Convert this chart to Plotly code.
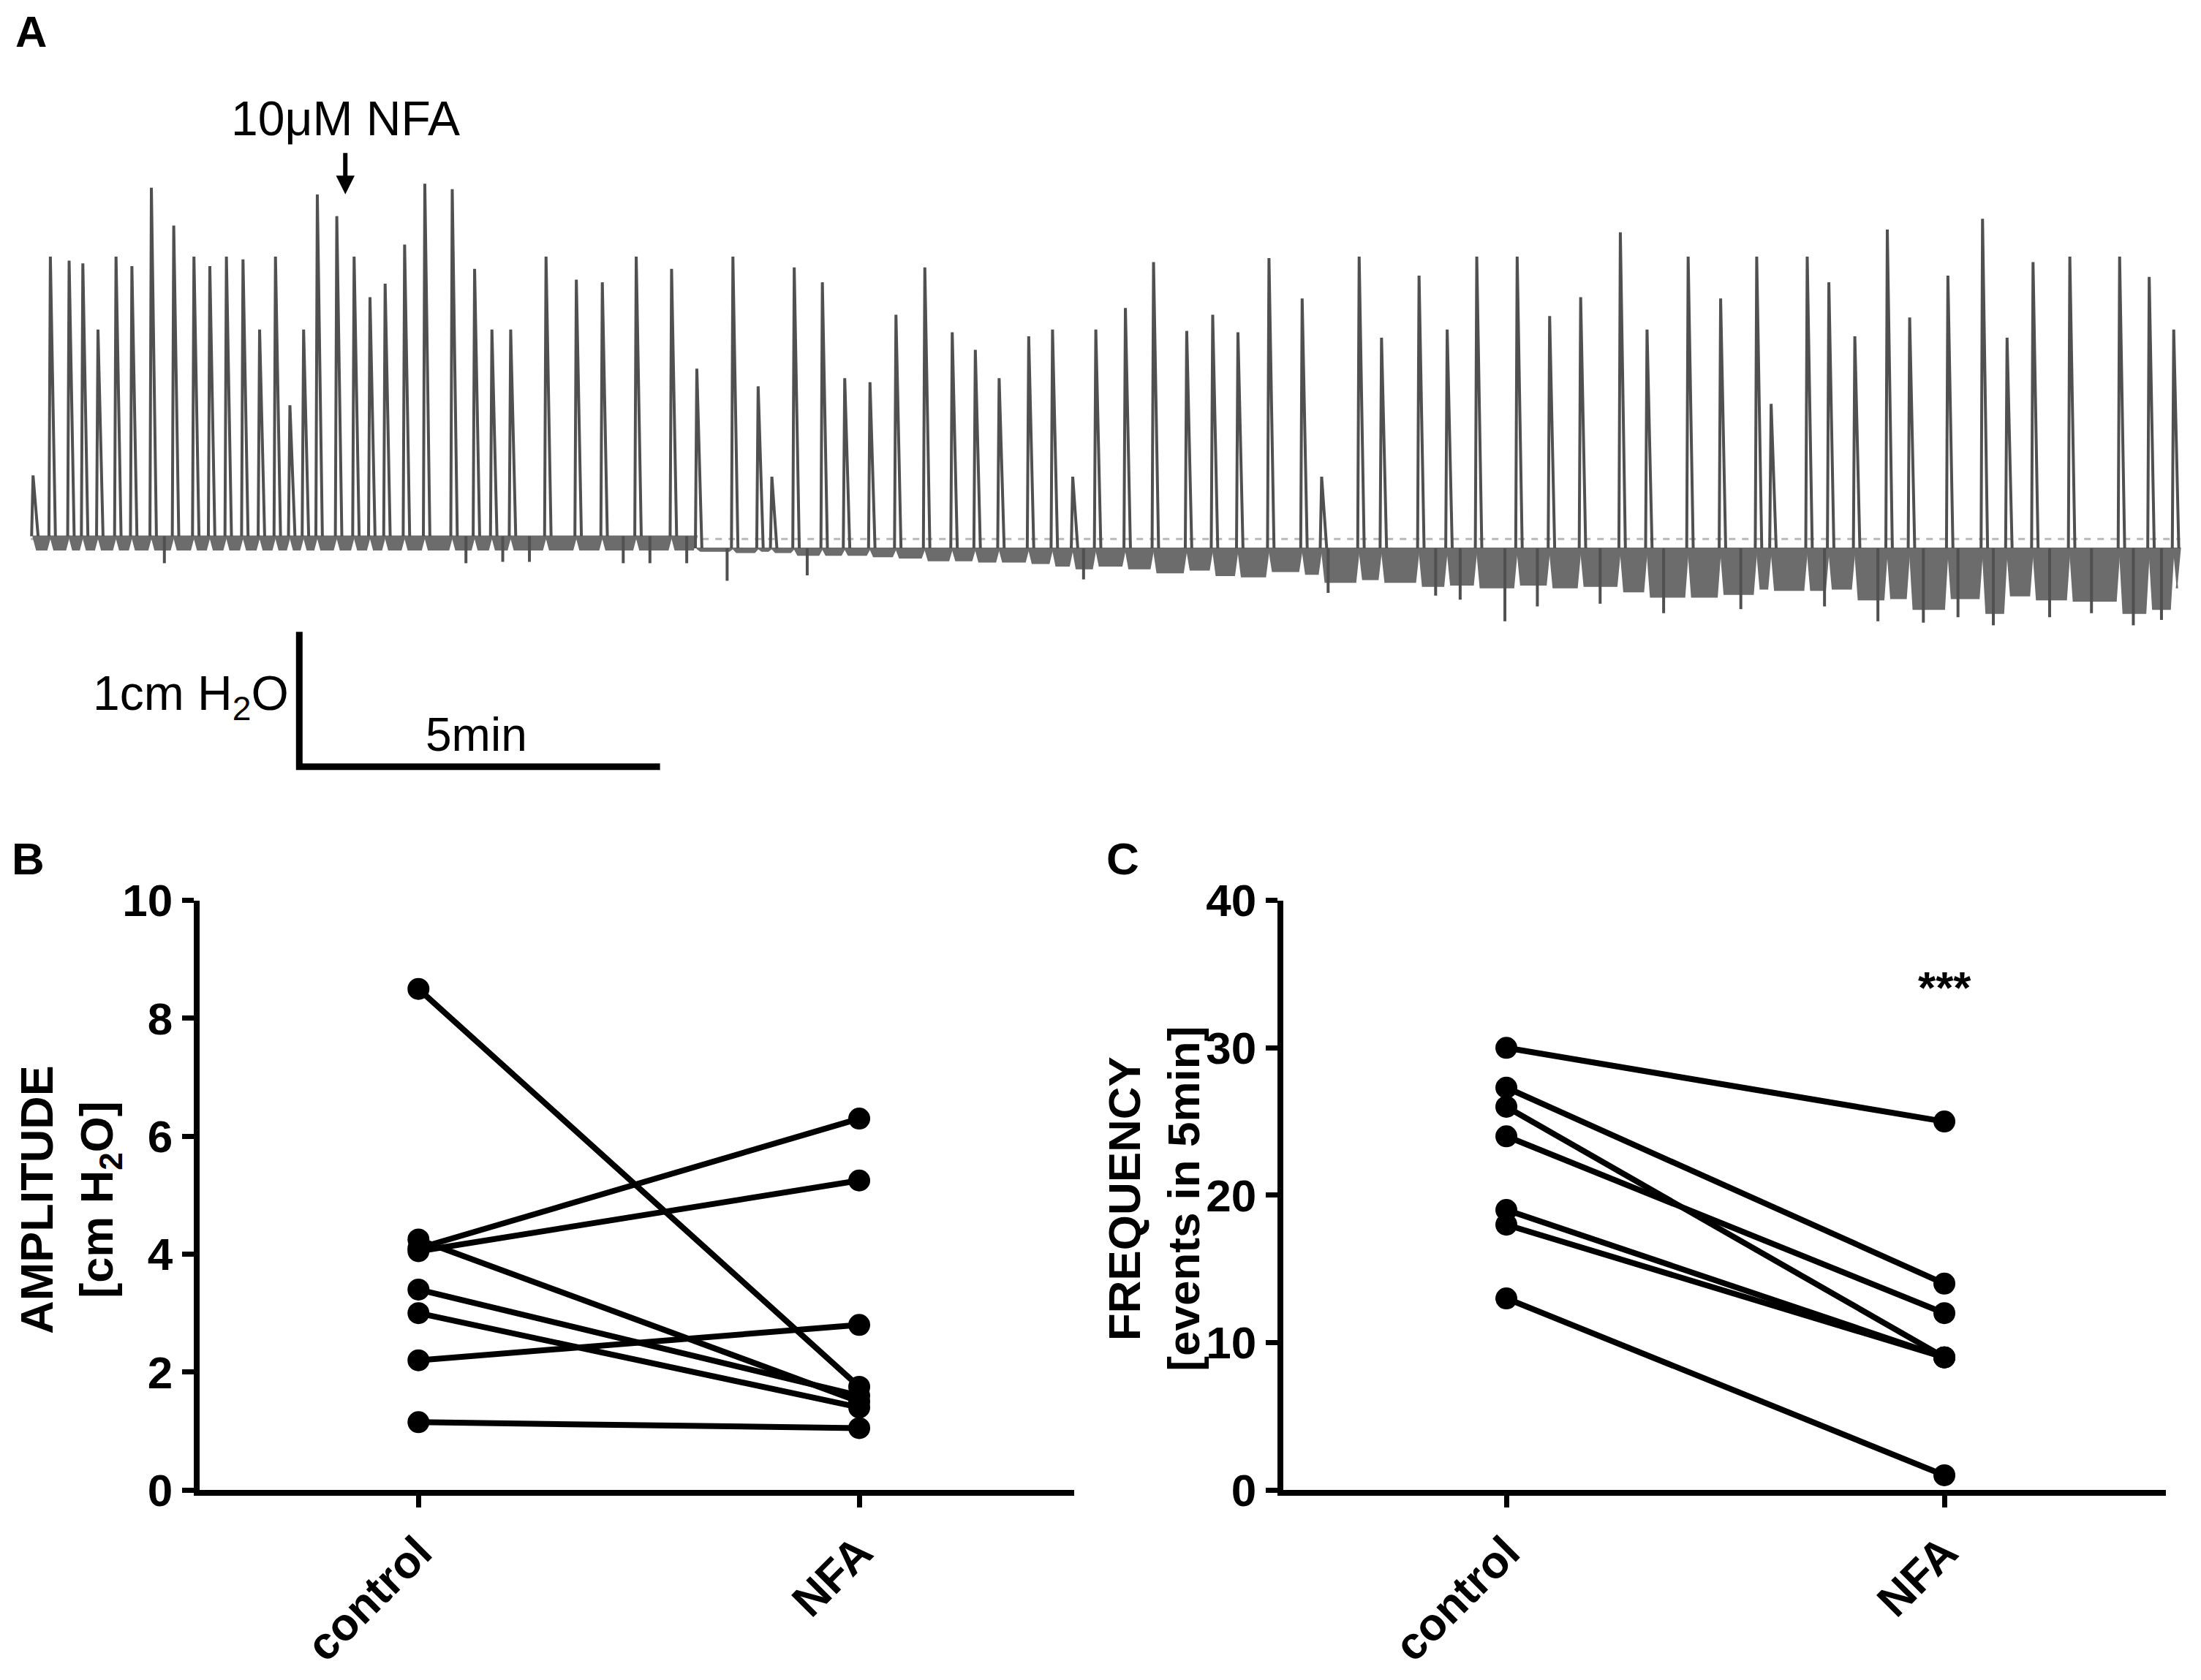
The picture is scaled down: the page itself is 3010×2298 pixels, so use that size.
import plotly.graph_objects as go

# ---- panel A: pressure trace (time in min, amplitude in cm H2O) ----
spike_t = [0.03, 0.27, 0.53, 0.72, 0.93, 1.18, 1.40, 1.67, 1.98, 2.26,
           2.48, 2.71, 2.94, 3.17, 3.39, 3.59, 3.78, 3.97, 4.24, 4.48,
           4.70, 4.91, 5.18, 5.46, 5.84, 6.15, 6.39, 6.65, 7.14, 7.56,
           7.92, 8.39, 8.88, 9.23,
           9.73, 10.08, 10.27, 10.58, 10.97, 11.28, 11.63, 11.99, 12.39, 12.77,
           13.09, 13.42, 13.83, 14.16, 14.44, 14.76, 15.17, 15.56, 16.02, 16.38,
           16.73, 17.16, 17.62, 17.89, 18.41, 18.72, 19.24, 19.63,
           20.04, 20.60, 21.05, 21.48, 22.03, 22.40, 22.97, 23.42, 23.92, 24.12,
           24.62, 24.92, 25.28, 25.73, 26.04, 26.57, 27.05, 27.39, 27.75, 28.26,
           28.95, 29.36, 29.70]
spike_amp = [0.47, 2.09, 2.06, 2.04, 1.55, 2.09, 2.02, 2.60, 2.32, 2.09,
             2.02, 2.09, 2.07, 1.55, 2.09, 0.99, 1.55, 2.55, 2.39, 2.09,
             1.79, 1.89, 2.18, 2.63, 2.59, 2.00, 1.55, 1.55, 2.09, 1.92,
             1.90, 2.09, 2.00, 1.26,
             2.09, 1.13, 0.46, 2.01, 1.90, 1.19, 1.16, 1.66, 2.01, 1.53,
             1.40, 1.19, 1.50, 1.55, 0.46, 1.55, 1.71, 2.05, 1.54, 1.66,
             1.53, 2.08, 1.78, 0.46, 2.09, 1.49, 1.95, 1.55,
             2.09, 2.09, 1.65, 1.79, 2.27, 1.55, 2.09, 1.78, 2.09, 1.00,
             2.09, 1.90, 1.50, 2.29, 1.64, 1.95, 2.37, 1.49, 2.05, 2.09,
             2.09, 1.94, 1.55]
# lowest level of the noisy baseline after each spike
gap_depth = [-0.08, -0.08, -0.08, -0.08, -0.08, -0.08, -0.08, -0.08, -0.08, -0.08,
             -0.08, -0.08, -0.08, -0.08, -0.08, -0.08, -0.08, -0.08, -0.08, -0.08,
             -0.08, -0.08, -0.08, -0.08, -0.08, -0.08, -0.08, -0.08, -0.08, -0.08,
             -0.08, -0.08, -0.08, -0.09,
             -0.10, -0.09, -0.10, -0.12, -0.12, -0.12, -0.13, -0.14, -0.16, -0.16,
             -0.17, -0.17, -0.18, -0.20, -0.22, -0.20, -0.22, -0.25, -0.23, -0.27,
             -0.28, -0.24, -0.26, -0.32, -0.30, -0.32, -0.35, -0.34,
             -0.36, -0.34, -0.36, -0.35, -0.39, -0.43, -0.43, -0.41, -0.37, -0.38,
             -0.38, -0.37, -0.45, -0.44, -0.52, -0.44, -0.55, -0.42, -0.45, -0.46,
             -0.55, -0.52, -0.36]
# single downward deflections below the band
dip_t = [1.85, 6.03, 6.54, 6.91, 8.21, 8.58, 9.09, 9.65, 10.76, 14.59,
         17.98, 19.47, 19.81, 20.43, 20.88, 21.75, 22.63, 23.70, 24.86, 25.60,
         26.23, 26.71, 27.20, 27.98, 28.56, 29.14, 29.53]
dip_depth = [-0.18, -0.18, -0.17, -0.17, -0.18, -0.18, -0.18, -0.31, -0.27, -0.30,
             -0.40, -0.42, -0.45, -0.61, -0.50, -0.48, -0.55, -0.52, -0.50, -0.61,
             -0.62, -0.58, -0.64, -0.58, -0.55, -0.64, -0.60]
t_end = 29.79
drop_t = 9.2        # baseline sits a little lower after this time
early_level = 0.02
drop_level = -0.07

# ---- panels B and C ----
groups = ['control', 'NFA']
amp_control = [8.5, 4.1, 4.05, 4.25, 3.4, 3.0, 2.2, 1.15]
amp_nfa = [1.75, 6.3, 5.25, 1.5, 1.6, 1.4, 2.8, 1.05]
freq_control = [30, 27.3, 26.0, 24.0, 19.0, 18.0, 13.0]
freq_nfa = [25, 14, 9, 12, 9, 9, 1]

W, H = 3010, 2298
FONT = 'Liberation Sans, Arial, sans-serif'
TRACE = 'rgb(80,80,80)'
# the page body adds an 8px margin, shift everything back by that much
DX = -8 / W
DY = 8 / H


def base(t):
    return early_level if t < drop_t else drop_level


def px(v):
    return v + DX


def py(v):
    return v + DY


fig = go.Figure()

# dashed reference line
fig.add_trace(go.Scatter(x=[0, t_end], y=[0, 0], mode='lines',
                         line=dict(color='rgb(185,185,185)', width=3, dash='dash'),
                         xaxis='x', yaxis='y', hoverinfo='skip'))

# noisy baseline band between spikes
bx, by = [], []
ends = spike_t[1:] + [t_end]
for t0, t1, d in zip(spike_t, ends, gap_depth):
    b = base(t0)
    bx += [t0, t0 + 0.05, t1 - 0.05, t1, t0, None]
    by += [b, d, d, b, b, None]
fig.add_trace(go.Scatter(x=bx, y=by, mode='lines', fill='toself',
                         fillcolor='rgb(108,108,108)',
                         line=dict(color='rgb(108,108,108)', width=2),
                         xaxis='x', yaxis='y', hoverinfo='skip'))

# isolated downward deflections
dx, dy = [], []
for t, d in zip(dip_t, dip_depth):
    dx += [t, t, None]
    dy += [base(t), d, None]
fig.add_trace(go.Scatter(x=dx, y=dy, mode='lines',
                         line=dict(color=TRACE, width=4),
                         xaxis='x', yaxis='y', hoverinfo='skip'))

# contractions
sx, sy = [], []
for t, a in zip(spike_t, spike_amp):
    b = base(t)
    sx += [t - 0.02, t, t + 0.07, None]
    sy += [b, a, b, None]
fig.add_trace(go.Scatter(x=sx, y=sy, mode='lines',
                         line=dict(color=TRACE, width=4),
                         xaxis='x', yaxis='y', hoverinfo='skip'))

# scale bar: 1 cm H2O x 5 min
fig.add_trace(go.Scatter(x=[3.72, 3.72, 8.72], y=[-0.6875, -1.6875, -1.6875],
                         mode='lines', line=dict(color='black', width=9),
                         xaxis='x', yaxis='y', hoverinfo='skip'))

# paired data
for c, n in zip(amp_control, amp_nfa):
    fig.add_trace(go.Scatter(x=[0, 1], y=[c, n], mode='lines+markers',
                             line=dict(color='black', width=8),
                             marker=dict(color='black', size=30),
                             xaxis='x2', yaxis='y2', cliponaxis=False))
for c, n in zip(freq_control, freq_nfa):
    fig.add_trace(go.Scatter(x=[0, 1], y=[c, n], mode='lines+markers',
                             line=dict(color='black', width=8),
                             marker=dict(color='black', size=30),
                             xaxis='x3', yaxis='y3', cliponaxis=False))

hidden = dict(visible=False, showgrid=False, zeroline=False, automargin=False)
tickfont = dict(family=FONT, size=62, color='black', weight='bold')
xcat = dict(tickvals=[0, 1], ticktext=groups, tickangle=-45,
            tickfont=dict(family=FONT, size=62, color='black', weight='bold'),
            showline=True, linecolor='black', linewidth=8,
            ticks='outside', ticklen=16, tickwidth=7, tickcolor='black',
            showgrid=False, zeroline=False, automargin=False)
yval = dict(showline=True, linecolor='black', linewidth=8,
            ticks='outside', ticklen=16, tickwidth=7, tickcolor='black',
            tickfont=tickfont, showgrid=False, zeroline=False, automargin=False)

fig.update_layout(
    width=W, height=H, margin=dict(l=0, r=0, t=0, b=0, pad=0),
    paper_bgcolor='white', plot_bgcolor='white', showlegend=False,
    font=dict(family=FONT, color='black'),
    xaxis=dict(domain=[0, px(1)], range=[-0.347, 30.078], **hidden),
    yaxis=dict(domain=[py(0.5310), py(0.9162)], range=[-1.844, 2.948], **hidden),
    xaxis2=dict(domain=[px(0.0906), px(0.4879)], range=[-0.497, 1.487],
                anchor='y2', **xcat),
    yaxis2=dict(domain=[py(0.1131), py(0.4640)], range=[0, 10], dtick=2,
                anchor='x2', **yval),
    xaxis3=dict(domain=[px(0.5829), px(0.9841)], range=[-0.510, 1.506],
                anchor='y3', **xcat),
    yaxis3=dict(domain=[py(0.1131), py(0.4640)], range=[0, 40], dtick=10,
                anchor='x3', **yval),
)

ann = [
    dict(text='<b>A</b>', x=0.0140, y=0.9809, font=dict(size=60)),
    dict(text='<b>B</b>', x=0.0128, y=0.4890, font=dict(size=62)),
    dict(text='<b>C</b>', x=0.5102, y=0.4890, font=dict(size=62)),
    dict(text='10\u03bcM NFA', x=0.1569, y=0.9296, font=dict(size=66)),
    dict(text='<b>AMPLITUDE<br>[cm H<sub>2</sub>O]</b>', x=0.0319, y=0.2856,
         textangle=-90, font=dict(size=63)),
    dict(text='<b>FREQUENCY<br>[events in 5min]</b>', x=0.5242, y=0.2864,
         textangle=-90, font=dict(size=62)),
]
for a in ann:
    a['x'] = px(a['x'])
    a['y'] = py(a['y'])
    fig.add_annotation(xref='paper', yref='paper', showarrow=False,
                       xanchor='center', yanchor='middle', **a)

fig.add_annotation(x=4.358, y=2.552, xref='x', yref='y', text='',
                   showarrow=True, ax=0, ay=-58, arrowhead=2, arrowsize=0.85,
                   arrowwidth=6, arrowcolor='black')
fig.add_annotation(x=3.60, y=-1.167, xref='x', yref='y', showarrow=False,
                   text='1cm H<sub>2</sub>O', xanchor='right', yanchor='middle',
                   font=dict(size=66))
fig.add_annotation(x=6.17, y=-1.448, xref='x', yref='y', showarrow=False,
                   text='5min', xanchor='center', yanchor='middle',
                   font=dict(size=64))
fig.add_annotation(x=1, y=34.1, xref='x3', yref='y3', showarrow=False,
                   text='<b>***</b>', font=dict(size=62))

fig.write_html("out.html")
